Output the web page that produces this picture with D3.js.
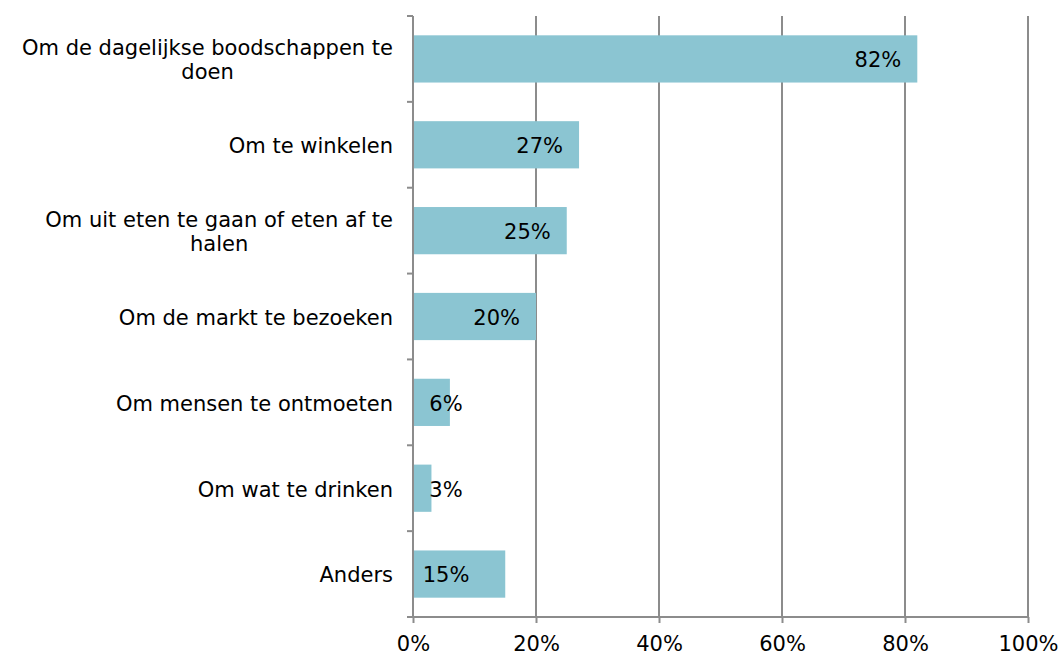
<!DOCTYPE html>
<html>
<head>
<meta charset="utf-8">
<script src="https://cdn.jsdelivr.net/npm/d3@7"></script>
<style>
  body { margin: 0; background: #fff; }
  text { font-family: "DejaVu Sans", Verdana, sans-serif; }
</style>
</head>
<body>
<svg id="chart" width="1064" height="656"></svg>
<script>
var categories = [
  "Om de dagelijkse boodschappen te doen",
  "Om te winkelen",
  "Om uit eten te gaan of eten af te halen",
  "Om de markt te bezoeken",
  "Om mensen te ontmoeten",
  "Om wat te drinken",
  "Anders"
];
var values = [82, 27, 25, 20, 6, 3, 15];
var xTicks = [0, 20, 40, 60, 80, 100];

function drawChart() {
  var svg = d3.select("#chart"),
    margin = { top: 16, right: 36, bottom: 39, left: 413 },
    width = 1064 - margin.left - margin.right,
    height = 656 - margin.top - margin.bottom,
    g = svg.append("g")
      .attr("transform", "translate(" + margin.left + "," + margin.top + ")");

  var gridColor = "#8c8c8c";
  var fontSize = "21px";

  var x = d3.scaleLinear().domain([0, 100]).range([0, width]);
  var y = d3.scaleBand().domain(categories).range([0, height]).paddingInner(0.45).paddingOuter(0.225);

  // gridlines
  g.append("g")
    .selectAll("line")
    .data(xTicks.slice(1))
    .enter()
    .append("line")
    .attr("x1", function (d) { return x(d); })
    .attr("x2", function (d) { return x(d); })
    .attr("y1", 0)
    .attr("y2", height)
    .attr("stroke", gridColor)
    .attr("stroke-width", 2);

  // bars
  g.append("g")
    .selectAll("rect")
    .data(values)
    .enter()
    .append("rect")
    .attr("x", x(0))
    .attr("y", function (d, i) { return y(categories[i]); })
    .attr("width", function (d) { return x(d) - x(0); })
    .attr("height", y.bandwidth())
    .attr("fill", "#8bc5d2");

  // x axis
  var xAxis = g.append("g")
    .attr("transform", "translate(0," + height + ")")
    .call(d3.axisBottom(x).tickValues(xTicks).tickSize(6).tickPadding(13)
      .tickFormat(function (d) { return d + "%"; }));
  xAxis.select(".domain").attr("stroke", gridColor).attr("stroke-width", 2)
    .attr("d", "M-6,0H" + width);
  xAxis.selectAll(".tick line").attr("stroke", gridColor).attr("stroke-width", 2);
  xAxis.selectAll(".tick text")
    .attr("fill", "#000")
    .style("font-size", fontSize)
    .style("font-family", "'DejaVu Sans', Verdana, sans-serif");

  // y axis line and ticks at band boundaries
  var boundaries = d3.range(categories.length + 1).map(function (i) { return i * height / categories.length; });
  g.append("line")
    .attr("x1", x(0)).attr("x2", x(0))
    .attr("y1", 0).attr("y2", height)
    .attr("stroke", gridColor).attr("stroke-width", 2);
  g.append("g")
    .selectAll("line")
    .data(boundaries)
    .enter()
    .append("line")
    .attr("x1", x(0) - 6).attr("x2", x(0))
    .attr("y1", function (d) { return d; })
    .attr("y2", function (d) { return d; })
    .attr("stroke", gridColor).attr("stroke-width", 2);

  // category labels (wrapped, right-aligned block, centered lines)
  var maxWidth = 385;
  var labelG = g.append("g");
  categories.forEach(function (c) {
    var words = c.split(" "), lines = [], line = [];
    var probe = labelG.append("text").style("font-size", fontSize);
    words.forEach(function (w) {
      var test = line.concat([w]).join(" ");
      probe.text(test);
      if (probe.node().getComputedTextLength() > maxWidth && line.length) {
        lines.push(line.join(" "));
        line = [w];
      } else {
        line.push(w);
      }
    });
    lines.push(line.join(" "));
    var widths = lines.map(function (l) { probe.text(l); return probe.node().getComputedTextLength(); });
    probe.remove();
    var blockW = d3.max(widths);
    var cx = -20 - blockW / 2;
    var cy = y(c) + y.bandwidth() / 2 + 1;
    var lh = 24;
    var t = labelG.append("text")
      .attr("text-anchor", "middle")
      .attr("fill", "#000")
      .style("font-size", fontSize);
    lines.forEach(function (l, i) {
      t.append("tspan")
        .attr("x", cx)
        .attr("y", cy + (i - (lines.length - 1) / 2) * lh)
        .attr("dy", "0.35em")
        .text(l);
    });
  });

  // value labels
  g.append("g")
    .selectAll("text")
    .data(values)
    .enter()
    .append("text")
    .attr("x", function (d) {
      return (x(d) - x(0) < 100) ? x(0) + 33 : x(d) - 16;
    })
    .attr("text-anchor", function (d) {
      return (x(d) - x(0) < 100) ? "middle" : "end";
    })
    .attr("y", function (d, i) { return y(categories[i]) + y.bandwidth() / 2 + 1; })
    .attr("dy", "0.35em")
    .attr("fill", "#000")
    .style("font-size", fontSize)
    .text(function (d) { return d + "%"; });
}

drawChart();
</script>
</body>
</html>
